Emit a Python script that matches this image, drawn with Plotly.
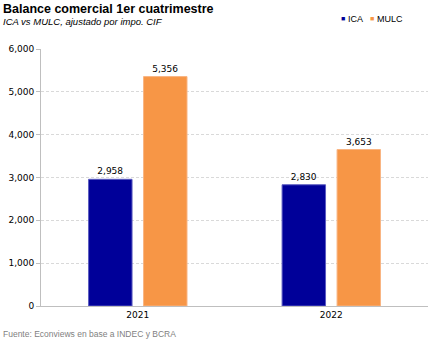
import plotly.graph_objects as go

years = ["2021", "2022"]
ica = [2958, 2830]
mulc = [5356, 3653]
y_ticks = [0, 1000, 2000, 3000, 4000, 5000, 6000]

FONT = "DejaVu Sans"
TXT_FONT = "Liberation Sans"
ICA_COLOR = "#000099"
MULC_COLOR = "#F79646"

fig = go.Figure()
# Bars sit at the outer edges of each year group, Excel-style
fig.add_trace(go.Bar(
    x=years, y=ica, name="ICA", width=0.2245, offset=-0.254,
    marker=dict(color=ICA_COLOR, line=dict(color="#5a5ac0", width=1)),
    text=[f"{v:,}" for v in ica], textposition="outside",
    textfont=dict(size=9, color="#000000", family=FONT), cliponaxis=False,
))
fig.add_trace(go.Bar(
    x=years, y=mulc, name="MULC", width=0.2245, offset=0.030,
    marker=dict(color=MULC_COLOR, line=dict(color="#f9b583", width=1)),
    text=[f"{v:,}" for v in mulc], textposition="outside",
    textfont=dict(size=9, color="#000000", family=FONT), cliponaxis=False,
))

fig.update_layout(
    width=442, height=340,
    margin=dict(l=41, r=14, t=49, b=34),
    paper_bgcolor="white", plot_bgcolor="white",
    barmode="overlay",
    font=dict(family=FONT, size=9, color="#000000"),
    showlegend=False,
    xaxis=dict(
        range=[-0.5, 1.5], automargin=False,
        showline=True, linecolor="#bfbfbf", linewidth=1,
        ticks="", tickfont=dict(size=9, family=FONT),
        showgrid=False,
    ),
    yaxis=dict(
        range=[0, 6000], tickvals=y_ticks, tickformat=",", automargin=False,
        showline=True, linecolor="#bfbfbf", linewidth=1,
        ticks="outside", ticklen=4, tickcolor="#bfbfbf",
        tickfont=dict(size=9, family=FONT),
        showgrid=True, gridcolor="#d9d9d9", griddash="3px,2px", gridwidth=1,
        zeroline=False,
    ),
)

# Header, legend and footer texts positioned in pixels from the top-left corner
px_w, px_h = 442 - 41 - 14, 340 - 49 - 34


def add_text(text, x_px, y_px, size, color, family=TXT_FONT,
             xanchor="left", yanchor="middle"):
    fig.add_annotation(
        text=text, showarrow=False,
        xref="paper", yref="paper",
        x=(x_px - 41) / px_w, y=1 - (y_px - 49) / px_h,
        xanchor=xanchor, yanchor=yanchor, borderpad=0, borderwidth=0,
        font=dict(size=size, family=family, color=color),
    )


add_text("<b>Balance comercial 1er cuatrimestre</b>", 3, 9, 12.5, "#000000")
add_text("<i>ICA vs MULC, ajustado por impo. CIF</i>", 3, 22, 9.5, "#000000")
add_text("Fuente: Econviews en base a INDEC y BCRA", 3, 334, 8.5, "#7f7f7f")

# Legend: small colour squares followed by series names
add_text("■", 341, 19, 7, ICA_COLOR)
add_text("ICA", 348, 19, 9, "#000000")
add_text("■", 370, 19, 7, MULC_COLOR)
add_text("MULC", 377, 19, 9, "#000000")

fig.write_html("out.html")
